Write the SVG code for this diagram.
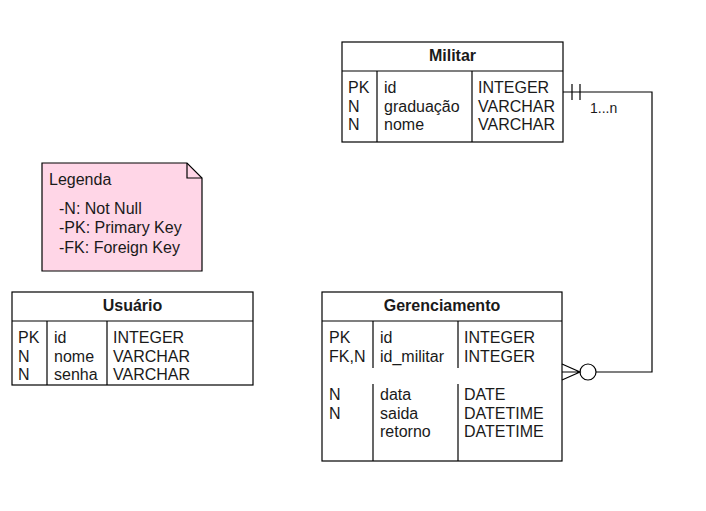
<svg xmlns="http://www.w3.org/2000/svg" width="706" height="511" viewBox="0 0 706 511">
  <style>
    text { font-family: "Liberation Sans", Arial, sans-serif; font-size: 16px; fill: #1a1a1a; }
    .hdr { font-weight: bold; text-anchor: middle; }
    .box { fill: #ffffff; stroke: #000; stroke-width: 1.2; }
    .ln { stroke: #000; stroke-width: 1.2; fill: none; }
    .note { fill: #ffd6e7; stroke: #000; stroke-width: 1.2; }
  </style>
  <rect width="706" height="511" fill="#ffffff"/>

  <g id="militar">
    <rect class="box" x="342" y="42" width="221" height="100"/>
    <line class="ln" x1="342" y1="71" x2="563" y2="71"/>
    <line class="ln" x1="377" y1="71" x2="377" y2="142"/>
    <line class="ln" x1="472" y1="71" x2="472" y2="142"/>
    <text class="hdr" x="452.5" y="61">Militar</text>
    <text x="348" y="93">PK</text>
    <text x="348" y="111.5">N</text>
    <text x="348" y="130">N</text>
    <text x="384" y="93">id</text>
    <text x="384" y="111.5">graduação</text>
    <text x="384" y="130">nome</text>
    <text x="478" y="93">INTEGER</text>
    <text x="478" y="111.5">VARCHAR</text>
    <text x="478" y="130">VARCHAR</text>
  </g>

  <g id="legenda">
    <path class="note" d="M42,163 H187 L202,178 V271 H42 Z"/>
    <path class="ln" d="M187,163 V178 H202"/>
    <text x="49" y="185">Legenda</text>
    <text x="59" y="214">-N: Not Null</text>
    <text x="59" y="233">-PK: Primary Key</text>
    <text x="59" y="253">-FK: Foreign Key</text>
  </g>

  <g id="usuario">
    <rect class="box" x="12" y="292" width="241" height="93"/>
    <line class="ln" x1="12" y1="321" x2="253" y2="321"/>
    <line class="ln" x1="47" y1="321" x2="47" y2="385"/>
    <line class="ln" x1="107" y1="321" x2="107" y2="385"/>
    <text class="hdr" x="132.5" y="311">Usuário</text>
    <text x="18" y="343">PK</text>
    <text x="18" y="361.5">N</text>
    <text x="18" y="380">N</text>
    <text x="54" y="343">id</text>
    <text x="54" y="361.5">nome</text>
    <text x="54" y="380">senha</text>
    <text x="113" y="343">INTEGER</text>
    <text x="113" y="361.5">VARCHAR</text>
    <text x="113" y="380">VARCHAR</text>
  </g>

  <g id="gerenciamento">
    <rect class="box" x="322" y="292" width="240" height="169"/>
    <line class="ln" x1="322" y1="321" x2="562" y2="321"/>
    <line class="ln" x1="373" y1="321" x2="373" y2="368"/>
    <line class="ln" x1="458" y1="321" x2="458" y2="368"/>
    <line class="ln" x1="373" y1="384" x2="373" y2="461"/>
    <line class="ln" x1="458" y1="384" x2="458" y2="461"/>
    <text class="hdr" x="442" y="311">Gerenciamento</text>
    <text x="329" y="343">PK</text>
    <text x="329" y="361.5">FK,N</text>
    <text x="380" y="343">id</text>
    <text x="380" y="361.5">id_militar</text>
    <text x="464" y="343">INTEGER</text>
    <text x="464" y="361.5">INTEGER</text>
    <text x="329" y="400">N</text>
    <text x="329" y="418.5">N</text>
    <text x="380" y="400">data</text>
    <text x="380" y="418.5">saida</text>
    <text x="380" y="437">retorno</text>
    <text x="464" y="400">DATE</text>
    <text x="464" y="418.5">DATETIME</text>
    <text x="464" y="437">DATETIME</text>
  </g>

  <g id="connectors">
    <path class="ln" d="M563,92 H652 V372 H596"/>
    <line class="ln" x1="572" y1="84" x2="572" y2="100"/>
    <line class="ln" x1="580" y1="84" x2="580" y2="100"/>
    <circle class="ln" cx="588" cy="372" r="8"/>
    <path class="ln" d="M562,364 L580,372 L562,380 M562,372 H580"/>
    <text x="590" y="113" style="font-size:14px">1...n</text>
  </g>
</svg>
